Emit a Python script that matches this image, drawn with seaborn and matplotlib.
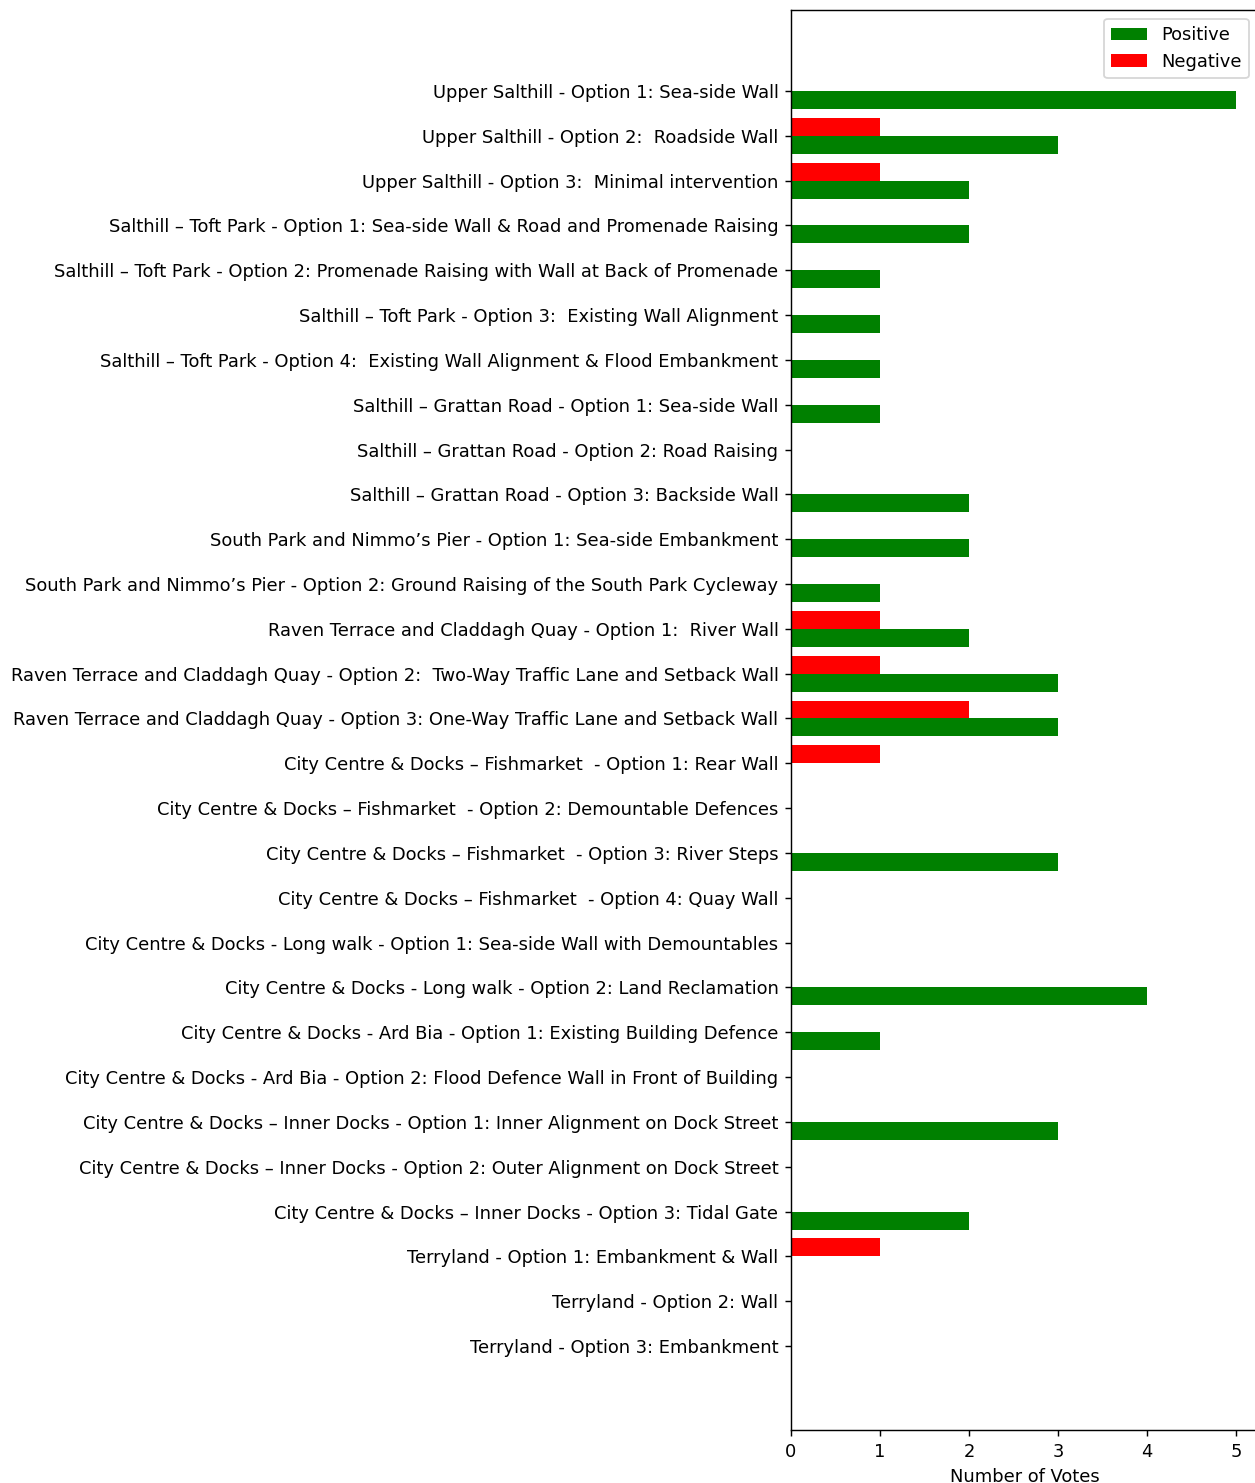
import matplotlib
matplotlib.use("Agg")
import matplotlib.pyplot as plt
import seaborn as sns
import pandas as pd

categories = [
    "Upper Salthill - Option 1: Sea-side Wall",
    "Upper Salthill - Option 2:  Roadside Wall",
    "Upper Salthill - Option 3:  Minimal intervention",
    "Salthill – Toft Park - Option 1: Sea-side Wall & Road and Promenade Raising",
    "Salthill – Toft Park - Option 2: Promenade Raising with Wall at Back of Promenade",
    "Salthill – Toft Park - Option 3:  Existing Wall Alignment",
    "Salthill – Toft Park - Option 4:  Existing Wall Alignment & Flood Embankment",
    "Salthill – Grattan Road - Option 1: Sea-side Wall",
    "Salthill – Grattan Road - Option 2: Road Raising",
    "Salthill – Grattan Road - Option 3: Backside Wall",
    "South Park and Nimmo’s Pier - Option 1: Sea-side Embankment",
    "South Park and Nimmo’s Pier - Option 2: Ground Raising of the South Park Cycleway",
    "Raven Terrace and Claddagh Quay - Option 1:  River Wall",
    "Raven Terrace and Claddagh Quay - Option 2:  Two-Way Traffic Lane and Setback Wall",
    "Raven Terrace and Claddagh Quay - Option 3: One-Way Traffic Lane and Setback Wall",
    "City Centre & Docks – Fishmarket  - Option 1: Rear Wall",
    "City Centre & Docks – Fishmarket  - Option 2: Demountable Defences",
    "City Centre & Docks – Fishmarket  - Option 3: River Steps",
    "City Centre & Docks – Fishmarket  - Option 4: Quay Wall",
    "City Centre & Docks - Long walk - Option 1: Sea-side Wall with Demountables",
    "City Centre & Docks - Long walk - Option 2: Land Reclamation",
    "City Centre & Docks - Ard Bia - Option 1: Existing Building Defence",
    "City Centre & Docks - Ard Bia - Option 2: Flood Defence Wall in Front of Building",
    "City Centre & Docks – Inner Docks - Option 1: Inner Alignment on Dock Street",
    "City Centre & Docks – Inner Docks - Option 2: Outer Alignment on Dock Street",
    "City Centre & Docks – Inner Docks - Option 3: Tidal Gate",
    "Terryland - Option 1: Embankment & Wall",
    "Terryland - Option 2: Wall",
    "Terryland - Option 3: Embankment",
]

positive = [5, 3, 2, 2, 1, 1, 1, 1, 0, 2, 2, 1, 2, 3, 3, 0, 0, 3, 0, 0, 4, 1, 0, 3, 0, 2, 0, 0, 0]
negative = [0, 1, 1, 0, 0, 0, 0, 0, 0, 0, 0, 0, 1, 1, 2, 1, 0, 0, 0, 0, 0, 0, 0, 0, 0, 0, 1, 0, 0]

series_names = ["Negative", "Positive"]
colors = {"Positive": "green", "Negative": "red"}

df = pd.DataFrame({
    "Option": categories * 2,
    "Votes": negative + positive,
    "Type": ["Negative"] * len(categories) + ["Positive"] * len(categories),
})

plt.rcParams["font.family"] = ["DejaVu Sans"]
plt.rcParams["font.size"] = 10

DPI = 129
fig = plt.figure(figsize=(1255 / DPI, 1483 / DPI), dpi=DPI)
ax = fig.add_axes([0.6303, 0.0357, 0.3721, 0.9576])

sns.barplot(data=df, y="Option", x="Votes", hue="Type", hue_order=series_names,
            order=categories, palette=colors, orient="h", width=0.8,
            saturation=1, errorbar=None, ax=ax, linewidth=0)

n = len(categories)
ax.set_ylim(n - 1 + 1.874, -1.807)
ax.set_xlim(0, 5.25)
ax.set_ylabel("")
ax.set_xlabel("Number of Votes")

handles, labels = ax.get_legend_handles_labels()
hmap = dict(zip(labels, handles))
ax.legend([hmap["Positive"], hmap["Negative"]], ["Positive", "Negative"],
          loc="upper right")

fig.savefig("out.png", dpi=DPI)
